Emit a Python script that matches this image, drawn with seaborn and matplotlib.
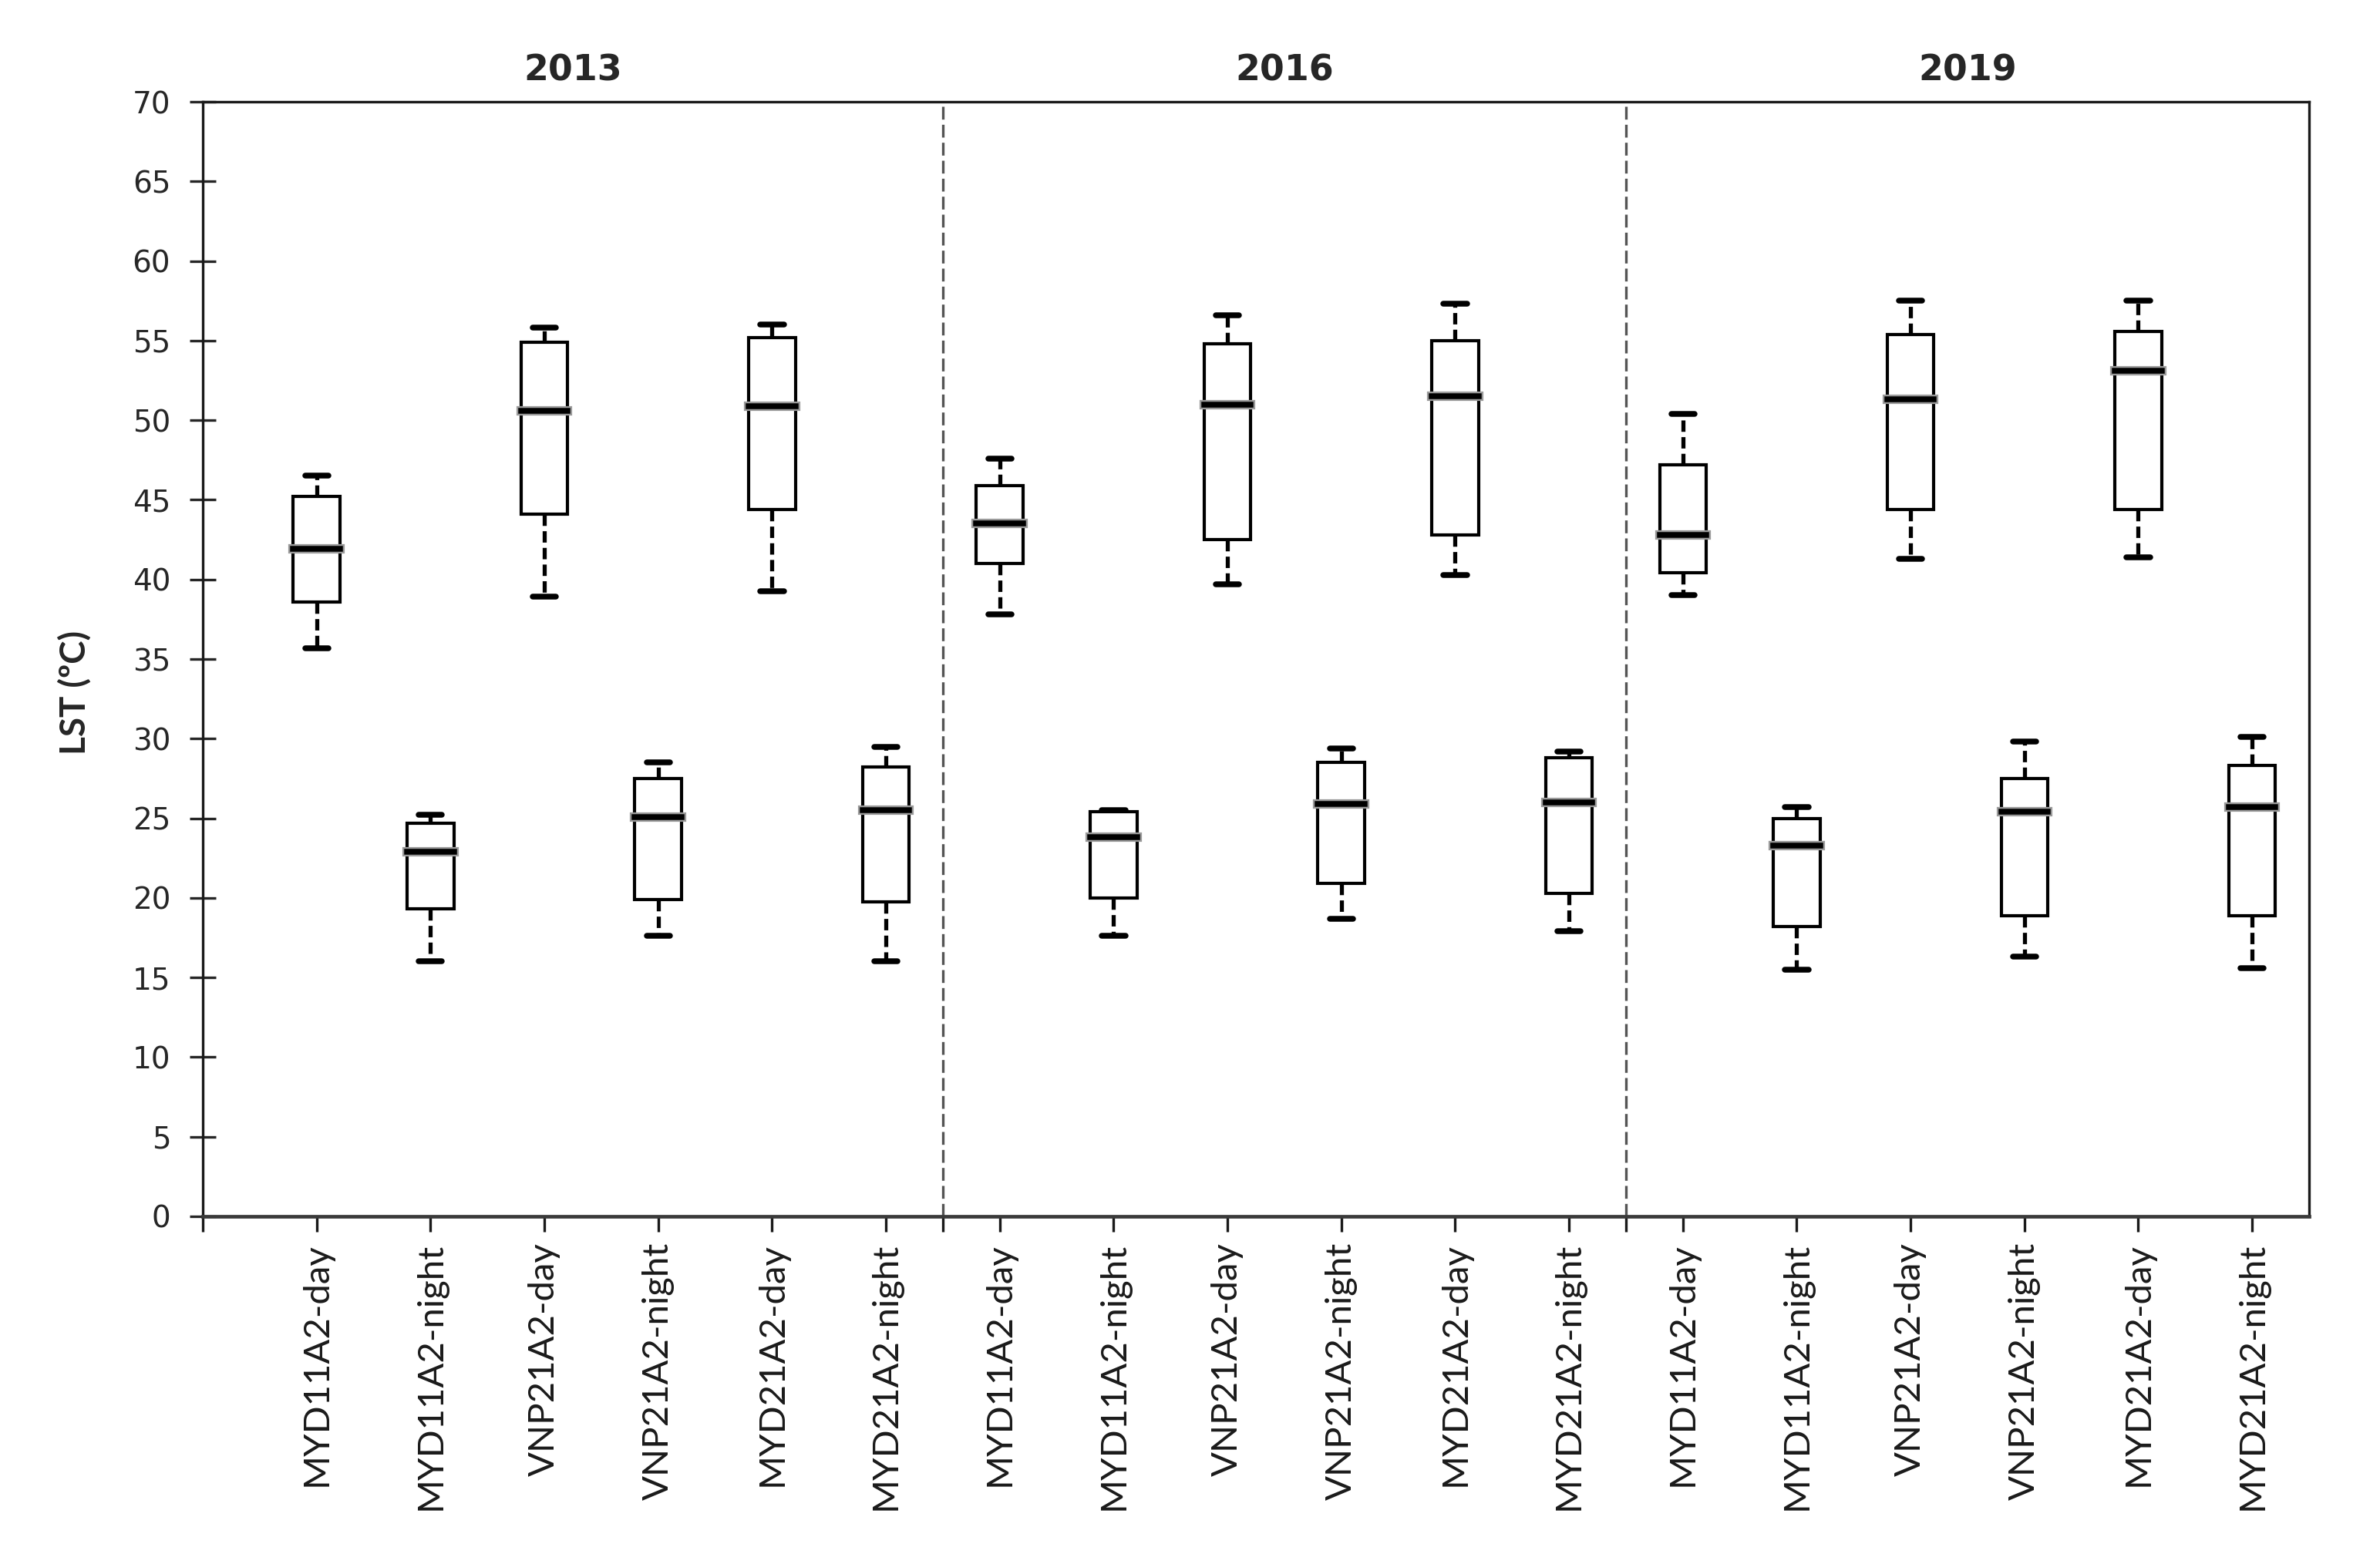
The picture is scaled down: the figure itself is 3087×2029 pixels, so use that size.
import numpy as np
import pandas as pd
import matplotlib
matplotlib.use("Agg")
import matplotlib.pyplot as plt
import matplotlib.patheffects as pe
import matplotlib.transforms as mtransforms
import seaborn as sns

# Productos y años
years = ["2013", "2016", "2019"]
products = ["MYD11A2-day", "MYD11A2-night", "VNP21A2-day",
            "VNP21A2-night", "MYD21A2-day", "MYD21A2-night"]

# Resumen de cinco números (mín, Q1, mediana, Q3, máx)
low_2013 = [35.7, 16.0, 38.9, 17.6, 39.25, 16.0]
q1_2013 = [38.6, 19.3, 44.1, 19.9, 44.4, 19.75]
med_2013 = [41.9, 22.9, 50.6, 25.1, 50.9, 25.5]
q3_2013 = [45.2, 24.7, 54.9, 27.5, 55.2, 28.2]
high_2013 = [46.5, 25.2, 55.8, 28.5, 56.0, 29.5]

low_2016 = [37.8, 17.6, 39.7, 18.7, 40.3, 17.9]
q1_2016 = [41.0, 20.0, 42.5, 20.9, 42.8, 20.3]
med_2016 = [43.5, 23.8, 51.0, 25.9, 51.5, 26.0]
q3_2016 = [45.9, 25.4, 54.8, 28.5, 55.0, 28.8]
high_2016 = [47.6, 25.5, 56.6, 29.4, 57.3, 29.2]

low_2019 = [39.0, 15.5, 41.3, 16.3, 41.4, 15.6]
q1_2019 = [40.4, 18.2, 44.4, 18.9, 44.4, 18.9]
med_2019 = [42.8, 23.3, 51.3, 25.4, 53.1, 25.7]
q3_2019 = [47.2, 25.0, 55.4, 27.5, 55.6, 28.3]
high_2019 = [50.4, 25.7, 57.5, 29.8, 57.5, 30.1]

stats = {
    "2013": (low_2013, q1_2013, med_2013, q3_2013, high_2013),
    "2016": (low_2016, q1_2016, med_2016, q3_2016, high_2016),
    "2019": (low_2019, q1_2019, med_2019, q3_2019, high_2019),
}

# Tabla larga: 5 valores por caja -> cuartiles exactos con percentil lineal
rows = []
order = []
for yr in years:
    for i, prod in enumerate(products):
        key = yr + " " + prod
        order.append(key)
        for arr in stats[yr]:
            rows.append({"grupo": key, "LST": arr[i]})
df = pd.DataFrame(rows)

sns.set_style("white")
plt.rcParams["font.family"] = ["DejaVu Sans"]

fig, ax = plt.subplots(figsize=(15.435, 10.145), dpi=200)
fig.subplots_adjust(left=0.0852, right=0.9702, bottom=0.2223, top=0.9349)

halo = [pe.Stroke(linewidth=4.4, foreground="#9a9a9a"), pe.Normal()]
sns.boxplot(data=df, x="grupo", y="LST", order=order, ax=ax,
            width=0.41, whis=(0, 100), showfliers=False,
            color="white", linecolor="black", linewidth=1.5,
            boxprops=dict(linewidth=1.5, edgecolor="black"),
            medianprops=dict(color="black", linewidth=2.7,
                             solid_capstyle="projecting", path_effects=halo),
            whiskerprops=dict(color="black", linewidth=1.9,
                              linestyle=(0, (2.8, 1.3))),
            capprops=dict(color="black", linewidth=2.7))

# Separadores entre años
bounds = [-1, 5.5, 11.5, 17.5]
for b in bounds[1:-1]:
    ax.axvline(b, color="#555555", linestyle=(0, (5, 2)), linewidth=1.2, zorder=0)

ax.set_xlim(bounds[0], bounds[-1])
ax.set_ylim(0, 70)
ax.set_yticks(np.arange(0, 71, 5))
ax.set_xticks(range(len(order)))
ax.set_xticklabels(products * len(years), rotation=90,
                   family=["Lato", "DejaVu Sans"], fontsize=17, color="#1a1a1a")
ax.set_xticks(bounds[:-1], minor=True)
ax.set_xlabel("")
ax.set_ylabel("")

ax.tick_params(axis="y", direction="inout", length=12, width=1.2,
               labelsize=14, pad=9, colors="#262626", left=True)
ax.tick_params(axis="x", which="both", direction="out", length=7.2,
               width=1.2, pad=5, colors="#1a1a1a", bottom=True)

for side in ["top", "left", "right"]:
    ax.spines[side].set_color("#1a1a1a")
    ax.spines[side].set_linewidth(1.2)
ax.spines["bottom"].set_color("#3a3a3a")
ax.spines["bottom"].set_linewidth(1.7)

# Títulos de cada año
trans = mtransforms.blended_transform_factory(ax.transData, ax.transAxes)
for k, yr in enumerate(years):
    ax.text((bounds[k] + bounds[k + 1]) / 2, 1.028, yr, transform=trans,
            ha="center", va="center", fontsize=16.5, fontweight="bold")

fig.text(0.0314, 0.5574, "LST (ºC)", rotation=90, ha="center", va="center",
         fontsize=16.5, fontweight="bold", family=["Lato", "DejaVu Sans"])

fig.savefig("out.png", dpi=200)
